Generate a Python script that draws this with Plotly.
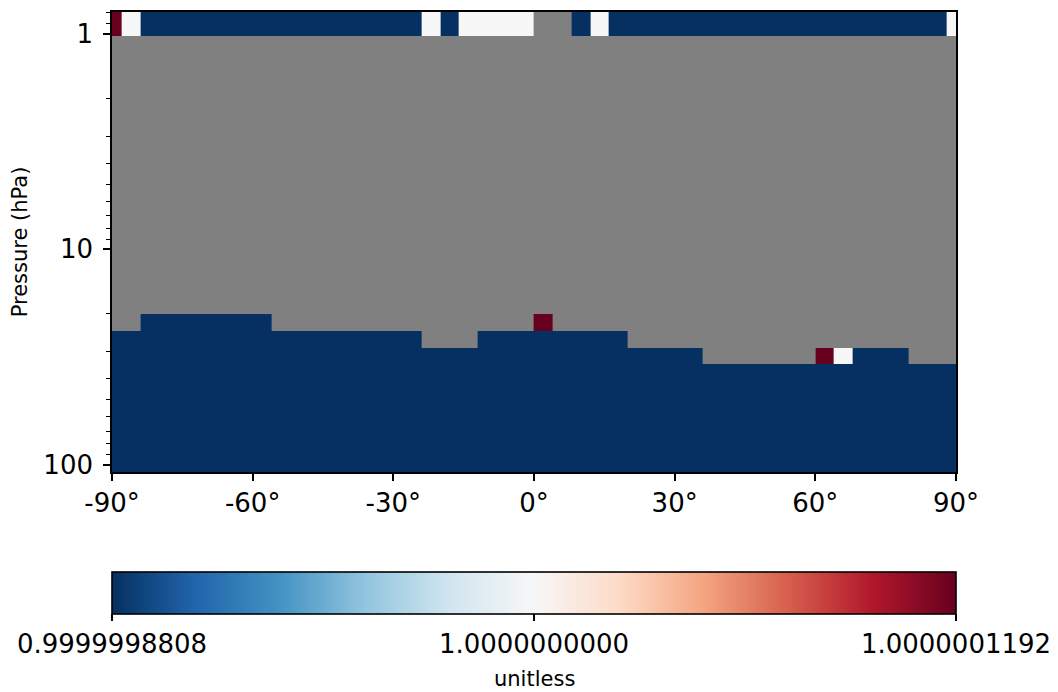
import math
import plotly.graph_objects as go

# ---- data -------------------------------------------------------------
# latitude cell centres (degrees)
lat_centers = [-90, -86, -82, -78, -74, -70, -66, -62, -58, -54, -50, -46,
               -42, -38, -34, -30, -26, -22, -18, -14, -10, -6, -2, 2, 6,
               10, 14, 18, 22, 26, 30, 34, 38, 42, 46, 50, 54, 58, 62, 66,
               70, 74, 78, 82, 86, 90]

# pressure cell edges (hPa), top to bottom
pressure_edges = [0.794, 1.026, 19.98, 23.96, 28.73, 34.07, 108.2]

# value codes per pressure row (one char per latitude cell)
# B = low value, W = one, R = high value, N = missing
VALUE_LOW = 0.99999988079071045
VALUE_ONE = 1.0
VALUE_HIGH = 1.0000001192092896
row_codes = [
    "RW" + "B" * 15 + "WB" + "W" * 4 + "NN" + "BW" + "B" * 18 + "W",
    "N" * 46,
    "NN" + "B" * 7 + "N" * 14 + "R" + "N" * 22,
    "B" * 17 + "N" * 3 + "B" * 8 + "N" * 18,
    "B" * 32 + "N" * 6 + "RW" + "B" * 3 + "N" * 3,
    "B" * 46,
]

x_tick_vals = [-90, -60, -30, 0, 30, 60, 90]
x_tick_text = ["-90°", "-60°", "-30°", "0°", "30°", "60°", "90°"]
y_tick_vals = [1, 10, 100]
y_tick_text = ["1", "10", "100"]
y_minor_vals = [0.8, 0.9, 2, 3, 4, 5, 6, 7, 8, 9, 20, 30, 40, 50, 60, 70, 80, 90]
cbar_tick_vals = [VALUE_LOW, VALUE_ONE, VALUE_HIGH]
cbar_tick_text = ["0.9999998808", "1.0000000000", "1.0000001192"]
cbar_label = "unitless"

# ---- build ------------------------------------------------------------
code_map = {"B": VALUE_LOW, "W": VALUE_ONE, "R": VALUE_HIGH, "N": None}
z = [[code_map[c] for c in row] for row in row_codes]

rdbu_r = ["rgb(5,48,97)", "rgb(33,102,172)", "rgb(67,147,195)",
          "rgb(146,197,222)", "rgb(209,229,240)", "rgb(247,247,247)",
          "rgb(253,219,199)", "rgb(244,165,130)", "rgb(214,96,77)",
          "rgb(178,24,43)", "rgb(103,0,31)"]
colorscale = [[i / (len(rdbu_r) - 1), c] for i, c in enumerate(rdbu_r)]

FONT = "DejaVu Sans"
# the page body adds an 8px margin, so the figure is 8px smaller and
# all page positions are shifted by -8
OFF = 8
W, H = 1058 - OFF, 692 - OFF
L = 111.5 - OFF
T = 11.7 - OFF
R = 1058 - 956.5
B = 692 - 472.3
plot_h = H - T - B
cbar_top_px = 572 - OFF
plot_bottom_px = 472.3 - OFF
label_mid_px = 679.5 - OFF

fig = go.Figure(go.Heatmap(
    x=lat_centers,
    y=pressure_edges,
    z=z,
    zmin=VALUE_LOW,
    zmax=VALUE_HIGH,
    colorscale=colorscale,
    hoverongaps=False,
    colorbar=dict(
        orientation="h",
        x=0.5, xanchor="center", xref="paper",
        y=-(cbar_top_px - plot_bottom_px) / plot_h, yanchor="top", yref="paper",
        len=1.0, lenmode="fraction",
        thickness=42, thicknessmode="pixels",
        xpad=0, ypad=0,
        outlinewidth=1.6, outlinecolor="black",
        tickmode="array", tickvals=cbar_tick_vals, ticktext=cbar_tick_text,
        ticks="outside", ticklen=7, tickwidth=1.6, tickcolor="black",
        tickfont=dict(family=FONT, size=26, color="black"),
    ),
))

fig.add_annotation(
    text=cbar_label, showarrow=False,
    xref="paper", yref="paper",
    x=0.5, xanchor="center",
    y=-(label_mid_px - plot_bottom_px) / plot_h, yanchor="middle",
    font=dict(family=FONT, size=21, color="black"),
)

fig.update_layout(
    width=W, height=H,
    margin=dict(l=L, r=R, t=T, b=B, pad=0, autoexpand=False),
    paper_bgcolor="white",
    plot_bgcolor="rgb(128,128,128)",
    font=dict(family=FONT, color="black"),
    showlegend=False,
)

fig.update_xaxes(
    range=[-90, 90],
    tickmode="array", tickvals=x_tick_vals, ticktext=x_tick_text,
    ticks="outside", ticklen=7, tickwidth=1.6, tickcolor="black",
    tickfont=dict(family=FONT, size=26, color="black"),
    showline=True, linecolor="black", linewidth=1.6, mirror=True,
    showgrid=False, zeroline=False,
)

fig.update_yaxes(
    type="log",
    range=[math.log10(max(pressure_edges)), math.log10(min(pressure_edges))],
    tickmode="array", tickvals=y_tick_vals, ticktext=y_tick_text,
    ticks="outside", ticklen=7, tickwidth=1.6, tickcolor="black",
    tickfont=dict(family=FONT, size=26, color="black"),
    ticklabelstandoff=5,
    minor=dict(tickmode="array", tickvals=y_minor_vals, ticks="outside",
               ticklen=4, tickwidth=1.2, tickcolor="black", showgrid=False),
    showline=True, linecolor="black", linewidth=1.6, mirror=True,
    showgrid=False, zeroline=False,
    title=dict(text="Pressure (hPa)", standoff=14,
               font=dict(family=FONT, size=21, color="black")),
)

fig.write_html("out.html")
